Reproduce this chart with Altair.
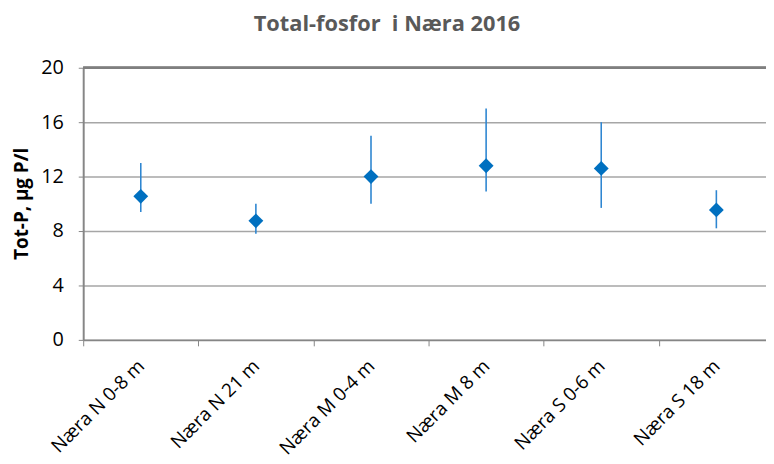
import altair as alt
import pandas as pd

stations = ["Næra N 0-8 m", "Næra N 21 m", "Næra M 0-4 m", "Næra M 8 m", "Næra S 0-6 m", "Næra S 18 m"]
mean_p = [10.55, 8.75, 12.0, 12.8, 12.6, 9.55]
max_p = [13.0, 10.0, 15.0, 17.0, 16.0, 11.0]
min_p = [9.4, 7.8, 10.0, 10.9, 9.7, 8.2]
y_ticks = list(range(0, 21))

df = pd.DataFrame({"stasjon": stations, "tot_p": mean_p, "hi": max_p, "lo": min_p})

FONT = "Open Sans"
AXIS_GRAY = "#868686"

x_enc = alt.X(
    "stasjon:N",
    sort=stations,
    scale=alt.Scale(range=[0, 698], paddingInner=0, paddingOuter=0),
    axis=alt.Axis(
        title=None,
        labelAngle=-45,
        labelAlign="right",
        labelBaseline="middle",
        labelPadding=17,
        labelFont=FONT,
        labelFontSize=19,
        labelColor="#000000",
        tickBand="extent",
        tickSize=6,
        tickColor=AXIS_GRAY,
        domainColor=AXIS_GRAY,
        domainWidth=2,
        grid=False,
    ),
)

y_scale = alt.Scale(domain=[0, 20], nice=False, zero=True)

y_axis = alt.Axis(
    title="Tot-P, µg P/l",
    titleFont=FONT,
    titleFontSize=19,
    titleFontWeight="bold",
    titleColor="#000000",
    titleAngle=-90,
    titleAlign="center",
    titleBaseline="middle",
    titleX=-62,
    titleY=137,
    values=y_ticks,
    labelExpr="datum.value % 4 === 0 ? datum.label : ''",
    labelFont=FONT,
    labelFontSize=20,
    labelColor="#000000",
    labelPadding=15,
    tickSize=5,
    tickColor=AXIS_GRAY,
    domainColor=AXIS_GRAY,
    domainWidth=2,
    grid=True,
    gridColor="#a6a6a6",
    gridWidth=1.5,
    gridOpacity={"condition": {"test": "datum.value % 4 === 0", "value": 1}, "value": 0},
)

base = alt.Chart(df)

bars = base.mark_rule(color="#2e86d1", strokeWidth=1.6).encode(
    x=x_enc,
    y=alt.Y("lo:Q", scale=y_scale, axis=y_axis),
    y2="hi:Q",
)

points = base.mark_point(shape="diamond", filled=True, size=225, color="#0070C0", opacity=1).encode(
    x=alt.X("stasjon:N", sort=stations),
    y=alt.Y("tot_p:Q"),
)

top_line = base.mark_rule(color="#7f7f7f", strokeWidth=2).encode(
    y=alt.datum(20),
)

chart = (
    alt.layer(bars, points, top_line)
    .properties(
        width=690,
        height=275,
        padding={"left": 76, "top": 58, "right": 0, "bottom": 120},
        autosize=alt.AutoSizeParams(type="none"),
        title=alt.TitleParams(
            "Total-fosfor\u00a0 i Næra 2016",
            font=FONT,
            fontSize=22,
            fontWeight="bold",
            color="#595959",
            anchor="middle",
            dx=-38,
            offset=5,
            baseline="alphabetic",
        ),
    )
    .configure_view(stroke=None)
)

chart.save("out.html", embed_options={"renderer": "svg", "actions": False})
